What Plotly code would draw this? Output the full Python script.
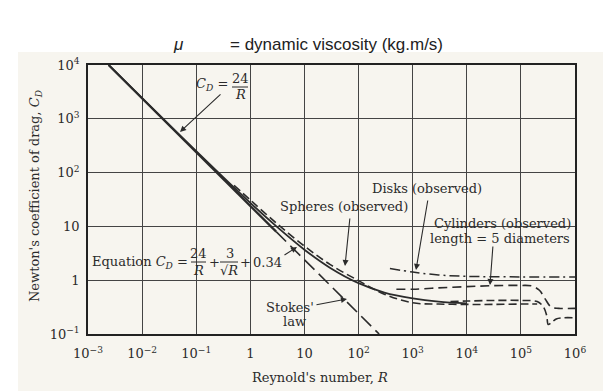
import plotly.graph_objects as go

# ---------------- data ----------------
# C_D = 24/R drawn solid (upper part) and its Stokes' law continuation (long dash)
R_24 = [0.0024, 0.01, 0.1, 1, 3]
CD_24 = [10000, 2400, 240, 24, 8]
R_stokes = [3, 10, 100, 240]
CD_stokes = [8, 2.4, 0.24, 0.1]

# Equation curve C_D = 24/R + 3/sqrt(R) + 0.34 (solid)
R_eq = [0.0024, 0.01, 0.1, 1, 3, 10, 30, 100, 300, 1000, 3000, 10000]
CD_eq = [10061, 2430, 250, 27.3, 10.1, 3.69, 1.69, 0.88, 0.59, 0.46, 0.40, 0.37]

# Spheres (observed), dashed
R_sph = [0.5, 1, 3, 10, 30, 100, 300, 1000, 3000, 10000, 30000, 100000, 200000]
CD_sph = [58, 31, 11.6, 4.3, 1.95, 0.98, 0.55, 0.38, 0.36, 0.355, 0.355, 0.36, 0.36]

# Spheres upper branch with drag crisis, dashed
R_sph2 = [5000, 10000, 30000, 100000, 200000, 260000, 300000, 320000, 360000, 450000, 600000, 1000000]
CD_sph2 = [0.40, 0.41, 0.42, 0.42, 0.40, 0.32, 0.22, 0.15, 0.16, 0.19, 0.20, 0.20]

# Cylinders (observed), length = 5 diameters, dashed
R_cyl = [500, 1000, 3000, 10000, 30000, 100000, 160000, 220000, 280000, 360000, 500000, 1000000]
CD_cyl = [0.68, 0.68, 0.72, 0.76, 0.79, 0.80, 0.78, 0.65, 0.45, 0.32, 0.30, 0.30]

# Disks (observed), dash-dot
R_disk = [380, 1000, 3000, 10000, 100000, 1000000]
CD_disk = [1.65, 1.42, 1.25, 1.18, 1.15, 1.15]

x_tickvals = [1e-3, 1e-2, 1e-1, 1, 10, 1e2, 1e3, 1e4, 1e5, 1e6]
x_ticktext = ["10<sup>−3</sup>", "10<sup>−2</sup>", "10<sup>−1</sup>", "1", "10",
              "10<sup>2</sup>", "10<sup>3</sup>", "10<sup>4</sup>", "10<sup>5</sup>", "10<sup>6</sup>"]
y_tickvals = [1e-1, 1, 10, 1e2, 1e3, 1e4]
y_ticktext = ["10<sup>−1</sup>", "1", "10", "10<sup>2</sup>", "10<sup>3</sup>", "10<sup>4</sup>"]

# ---------------- figure ----------------
INK = "#2b2b2b"
SERIF = "DejaVu Serif"
OFF = 8                      # page body margin of the browser
L, R, T, B = 88, 575, 65, 334   # plot area in window pixels
W, H = 611 - OFF, 391 - OFF


def P(x, y):
    return (x - L) / (R - L), (B - y) / (B - T)


fig = go.Figure()
fig.add_trace(go.Scatter(x=R_24, y=CD_24, mode="lines", line=dict(color=INK, width=2.2)))
fig.add_trace(go.Scatter(x=R_stokes, y=CD_stokes, mode="lines",
                         line=dict(color=INK, width=1.6, dash="14px,6px")))
fig.add_trace(go.Scatter(x=R_eq, y=CD_eq, mode="lines", line=dict(color=INK, width=1.8, shape="spline")))
fig.add_trace(go.Scatter(x=R_sph, y=CD_sph, mode="lines",
                         line=dict(color=INK, width=1.6, dash="8px,4px", shape="spline")))
fig.add_trace(go.Scatter(x=R_sph2, y=CD_sph2, mode="lines",
                         line=dict(color=INK, width=1.6, dash="8px,4px", shape="spline")))
fig.add_trace(go.Scatter(x=R_cyl, y=CD_cyl, mode="lines",
                         line=dict(color=INK, width=1.6, dash="9px,5px", shape="spline")))
fig.add_trace(go.Scatter(x=R_disk, y=CD_disk, mode="lines",
                         line=dict(color=INK, width=1.5, dash="10px,4px,2px,4px", shape="spline")))

ann = []


def text(x, y, s, size=13, xanchor="center", font=SERIF, angle=0, color=INK):
    px, py = P(x, y)
    ann.append(dict(x=px, y=py, xref="paper", yref="paper", text=s, showarrow=False,
                    xanchor=xanchor, yanchor="middle", textangle=angle,
                    font=dict(family=font, size=size, color=color)))


def arrow(tail, tip):
    px, py = P(*tip)
    ann.append(dict(x=px, y=py, xref="paper", yref="paper", text="", showarrow=True,
                    ax=tail[0] - tip[0], ay=tail[1] - tip[1],
                    arrowhead=2, arrowsize=1.1, arrowwidth=1.1, arrowcolor=INK))


# title line
text(178, 44, "<i>μ</i>", size=17, font="Liberation Sans", color="#222")
text(228, 44, "= dynamic viscosity (kg.m/s)", size=17, xanchor="left", font="Liberation Sans", color="#222")

# C_D = 24/R
text(230, 84, "<i>C</i><sub><i>D</i></sub> =", xanchor="right")
text(240, 79, "24")
text(240, 94, "<i>R</i>")

# Equation
text(190, 262, "Equation <i>C</i><sub><i>D</i></sub> =", xanchor="right")
text(198, 253, "24")
text(198, 270, "<i>R</i>")
text(214, 262, "+")
text(230, 253, "3")
text(229, 270, "√<i>R</i>")
text(245, 262, "+")
text(267, 262, "0.34")

text(344, 207, "Spheres (observed)")
text(427, 188, "Disks (observed)")
text(502, 223, "Cylinders (observed)")
text(500, 238, "length = 5 diameters")
text(290, 307, "Stokes'")
text(294, 321, "law")

arrow((222, 93), (180, 132))
arrow((283, 256), (297, 247))
arrow((350, 217), (345, 266))
arrow((428, 199), (416, 270))
arrow((493, 245), (490, 285))
arrow((315, 305), (347, 299))

# axis titles
text(320, 377, "Reynold's number, <i>R</i>", size=13)
text(35, 196, "Newton's coefficient of drag, <i>C</i><sub><i>D</i></sub>", size=13, angle=-90)

shapes = []
# scanned page background
x0, y0 = P(18, 52)
x1, y1 = P(611, 391)
shapes.append(dict(type="rect", xref="paper", yref="paper", x0=x0, y0=y1, x1=x1, y1=y0,
                   fillcolor="#f7f5ef", line=dict(width=0), layer="below"))
# fraction bars
for (xa, xb, yy) in [(232, 248, 87), (191, 206, 262), (220, 238, 262)]:
    ax_, ay_ = P(xa, yy)
    bx_, by_ = P(xb, yy)
    shapes.append(dict(type="line", xref="paper", yref="paper", x0=ax_, y0=ay_, x1=bx_, y1=by_,
                       line=dict(color=INK, width=1)))

fig.update_layout(
    width=W, height=H,
    margin=dict(l=L - OFF, r=611 - R, t=T - OFF, b=391 - B),
    paper_bgcolor="white", plot_bgcolor="rgba(0,0,0,0)",
    showlegend=False,
    annotations=ann, shapes=shapes,
    font=dict(family=SERIF, size=13, color=INK),
)
fig.update_xaxes(type="log", range=[-3, 6], tickvals=x_tickvals, ticktext=x_ticktext,
                 showgrid=True, gridcolor="#444", gridwidth=1, zeroline=False,
                 showline=True, linecolor="#222", linewidth=1.5, mirror=True,
                 ticks="", ticklabelstandoff=7, tickfont=dict(family=SERIF, size=13, color=INK))
fig.update_yaxes(type="log", range=[-1, 4], tickvals=y_tickvals, ticktext=y_ticktext,
                 showgrid=True, gridcolor="#444", gridwidth=1, zeroline=False,
                 showline=True, linecolor="#222", linewidth=1.5, mirror=True,
                 ticks="", ticklabelstandoff=4, tickfont=dict(family=SERIF, size=13, color=INK))

fig.write_html("out.html")
